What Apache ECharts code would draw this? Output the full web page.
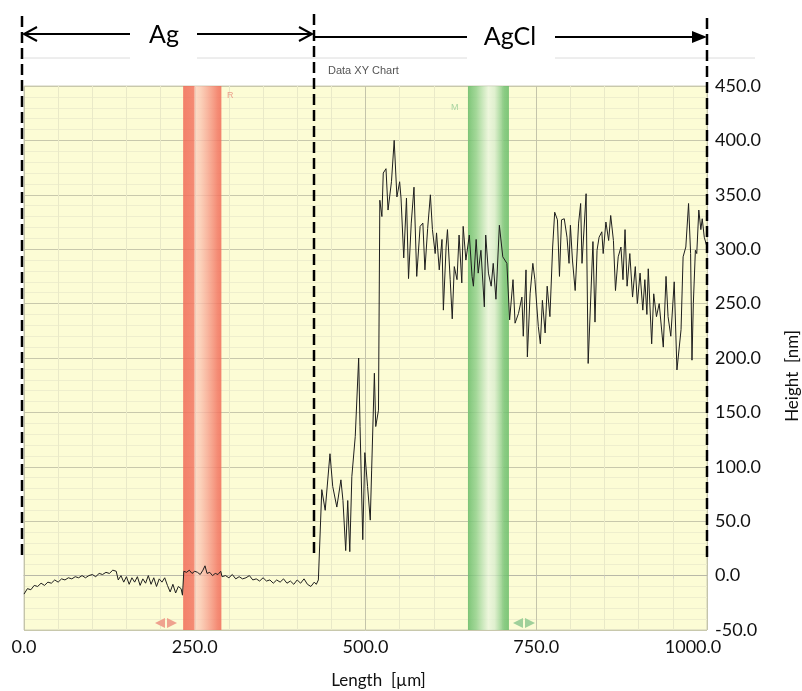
<!DOCTYPE html>
<html>
<head>
<meta charset="utf-8">
<title>Data XY Chart</title>
<script src="https://cdn.jsdelivr.net/npm/echarts@6/dist/echarts.min.js"></script>
<style>
html, body { margin: 0; padding: 0; background: #fff; }
#profileChart { width: 802px; height: 691px; }
</style>
</head>
<body>
<div id="profileChart"></div>
<script>
// Ag part of the profile (flat)
var agLengthUm = [
    0, 5, 10, 15, 20, 25, 30, 35, 40, 45, 50, 55, 60, 65, 70, 75, 80, 85, 90, 95,
    100, 105, 110, 115, 120, 125, 130, 135, 138, 142, 146, 150, 154, 158, 162, 166, 170, 174, 178, 182,
    186, 190, 194, 198, 202, 206, 210, 214, 218, 222, 226, 230, 232, 234, 238, 242, 246, 250, 254, 258,
    262, 265, 268, 272, 276, 280, 284, 288, 290, 295, 300, 305, 310, 315, 320, 325, 330, 335, 340, 345,
    350, 355, 360, 365, 370, 375, 380, 385, 390, 395, 400, 405, 410, 415, 420, 425, 428, 431
];
var agHeightNm = [
    -17, -12, -13, -9, -10, -7, -9, -6, -7, -4, -6, -3, -4, -2, -3, -1, -2, 0, -2, 0,
    1, -1, 2, 1, 3, 2, 5, 4, -4, 0, -6, -1, -8, -2, -6, -1, -9, -3, -7, 0,
    -8, -2, -10, -3, -6, -2, -9, -15, -8, -16, -10, -12, -18, 4, 3, 5, 2, 4, 3, 1,
    5, 9, 2, 3, 0, 2, 1, 4, -1, 0, -2, 1, -3, -1, -3, -2, 0, -4, -3, -5,
    -2, -5, -4, -7, -4, -6, -3, -7, -5, -8, -4, -7, -3, -8, -10, -6, -8, -4
];

// AgCl part of the profile (rough)
var agclLengthUm = [
    436, 441, 448, 452, 458, 464, 467, 471, 474, 477, 480, 485, 490, 492, 496, 499, 503, 507, 509, 513,
    515, 519, 521, 524, 526, 530, 533, 538, 542, 546, 550, 552, 556, 560, 563, 567, 571, 575, 580, 584,
    587, 591, 595, 598, 602, 604, 608, 612, 614, 618, 620, 624, 627, 630, 634, 637, 641, 643, 647, 652,
    656, 658, 662, 665, 669, 674, 676, 680, 684, 687, 691, 696, 701, 707, 711, 716, 719, 724, 729, 731,
    735, 737, 741, 745, 748, 753, 756, 759, 763, 766, 770, 774, 777, 781, 784, 787, 791, 795, 798, 800,
    803, 807, 812, 815, 817, 823, 826, 833, 836, 839, 842, 846, 848, 852, 856, 859, 863, 866, 870, 874,
    877, 880, 883, 887, 891, 895, 898, 902, 906, 909, 912, 914, 919, 922, 926, 930, 934, 936, 940, 943,
    947, 952, 956, 962, 965, 969, 973, 976, 978, 980, 983, 985, 988, 991, 993, 996, 1000
];
var agclHeightNm = [
    79, 60, 112, 82, 63, 88, 69, 23, 69, 22, 91, 128, 200, 137, 33, 113, 82, 51, 97, 186,
    137, 152, 345, 330, 370, 374, 336, 362, 400, 348, 362, 347, 292, 347, 273, 324, 357, 275, 321, 324,
    281, 319, 350, 318, 296, 315, 281, 309, 244, 302, 318, 272, 236, 284, 272, 313, 269, 321, 290, 313,
    275, 266, 309, 278, 299, 247, 313, 278, 266, 287, 254, 322, 293, 287, 235, 272, 232, 241, 256, 220,
    281, 201, 259, 287, 272, 229, 213, 253, 223, 266, 238, 302, 334, 327, 275, 327, 328, 311, 287, 322,
    290, 262, 324, 342, 287, 351, 195, 307, 233, 299, 311, 316, 296, 325, 308, 331, 308, 262, 293, 302,
    272, 318, 266, 296, 256, 284, 250, 278, 244, 272, 240, 282, 213, 259, 238, 250, 223, 210, 275, 238,
    220, 270, 189, 226, 293, 302, 342, 296, 198, 250, 299, 296, 336, 318, 328, 311, 302
];

// cursor bands (reference R and measurement M), in µm
var refBandUm = [233, 289];
var measBandUm = [650, 710];

var xMin = 0, xMax = 1000, xStep = 250;
var yMin = -50, yMax = 450, yStep = 50;

var profileData = [];
agLengthUm.concat(agclLengthUm).forEach(function (x, i) {
    profileData.push([x, agHeightNm.concat(agclHeightNm)[i]]);
});

var profileChart = echarts.init(document.getElementById('profileChart'));

var redBand = new echarts.graphic.LinearGradient(0, 0, 1, 0, [
    {offset: 0, color: 'rgba(241,108,88,0.85)'},
    {offset: 0.27, color: 'rgba(243,118,98,0.85)'},
    {offset: 0.32, color: 'rgba(252,208,192,0.75)'},
    {offset: 0.45, color: 'rgba(251,196,178,0.75)'},
    {offset: 0.9, color: 'rgba(243,120,100,0.85)'},
    {offset: 1, color: 'rgba(241,108,88,0.85)'}
]);
var greenBand = new echarts.graphic.LinearGradient(0, 0, 1, 0, [
    {offset: 0, color: 'rgba(104,188,104,0.85)'},
    {offset: 0.2, color: 'rgba(140,206,136,0.8)'},
    {offset: 0.5, color: 'rgba(232,244,222,0.75)'},
    {offset: 0.65, color: 'rgba(214,236,204,0.75)'},
    {offset: 0.88, color: 'rgba(120,196,118,0.85)'},
    {offset: 1, color: 'rgba(104,188,104,0.85)'}
]);

var lblFont = 'Lato, "DejaVu Sans", sans-serif';

var profileOption = {
    animation: false,
    grid: {
        left: 24,
        right: 95,
        top: 86,
        bottom: 61,
        outerBoundsMode: 'none',
        containLabel: false,
        show: true,
        backgroundColor: '#fcfcd5',
        borderColor: '#cfcfb8',
        borderWidth: 1
    },
    xAxis: {
        type: 'value',
        min: xMin,
        max: xMax,
        interval: xStep,
        name: 'Length  [µm]',
        nameLocation: 'middle',
        nameGap: 42,
        nameTextStyle: {fontFamily: lblFont, fontSize: 17, color: '#111', padding: [0, 0, 0, 26]},
        axisLine: {lineStyle: {color: '#b8b8a8'}},
        axisTick: {show: true, length: 3, lineStyle: {color: '#c8c8b8'}},
        minorTick: {show: true, splitNumber: 5, length: 3, lineStyle: {color: '#d8d8c8'}},
        axisLabel: {
            margin: 8,
            fontFamily: lblFont,
            fontSize: 18,
            color: '#111',
            formatter: function (v) {
                return v === xMax ? '{e|' + v.toFixed(1) + '}' : v.toFixed(1);
            },
            rich: {e: {fontFamily: lblFont, fontSize: 18, color: '#111', padding: [0, 28, 0, 0]}}
        },
        splitLine: {show: true, lineStyle: {color: '#c4c4aa', width: 1}},
        minorSplitLine: {show: true, lineStyle: {color: '#e9e9c8', width: 1}}
    },
    yAxis: {
        type: 'value',
        position: 'right',
        min: yMin,
        max: yMax,
        interval: yStep,
        name: 'Height  [nm]',
        nameLocation: 'middle',
        nameRotate: 90,
        nameGap: 77,
        nameTextStyle: {fontFamily: lblFont, fontSize: 17, color: '#111', padding: [0, 36, 0, 0]},
        axisLine: {show: false},
        axisTick: {show: false},
        minorTick: {show: false, splitNumber: 5},
        axisLabel: {
            margin: 8,
            fontFamily: lblFont,
            fontSize: 18,
            color: '#111',
            formatter: function (v) { return v.toFixed(1); }
        },
        splitLine: {show: true, lineStyle: {color: '#c8c8ac', width: 1}},
        minorSplitLine: {show: true, lineStyle: {color: '#eeeecd', width: 1}}
    },
    series: [{
        name: 'profile',
        type: 'line',
        data: profileData,
        showSymbol: false,
        symbol: 'none',
        z: 2,
        lineStyle: {color: '#1e1e1e', width: 1}
    }, {
        name: 'cursors',
        type: 'line',
        data: [],
        z: 5,
        silent: true,
        markArea: {
            silent: true,
            data: [
                [{xAxis: refBandUm[0], itemStyle: {color: redBand}}, {xAxis: refBandUm[1]}],
                [{xAxis: measBandUm[0], itemStyle: {color: greenBand}}, {xAxis: measBandUm[1]}]
            ]
        }
    }],
    graphic: [
        // chart frame header
        {type: 'line', z: 1, shape: {x1: 20, y1: 58, x2: 130, y2: 58}, style: {stroke: '#dcdcdc', lineWidth: 1}},
        {type: 'line', z: 1, shape: {x1: 197, y1: 58, x2: 467, y2: 58}, style: {stroke: '#dcdcdc', lineWidth: 1}},
        {type: 'line', z: 1, shape: {x1: 555, y1: 58, x2: 755, y2: 58}, style: {stroke: '#dcdcdc', lineWidth: 1}},
        {type: 'text', z: 10, x: 328, y: 71, style: {text: 'Data XY Chart', font: '11px Arial, "Liberation Sans", sans-serif', fill: '#555', textVerticalAlign: 'middle'}},
        {type: 'text', z: 10, x: 227, y: 96, style: {text: 'R', font: '9px Arial, "Liberation Sans", sans-serif', fill: '#eba08c', textVerticalAlign: 'middle'}},
        {type: 'text', z: 10, x: 451, y: 108, style: {text: 'M', font: '9px Arial, "Liberation Sans", sans-serif', fill: '#a8d4a0', textVerticalAlign: 'middle'}},
        // small cursor handles
        {type: 'polygon', z: 10, shape: {points: [[155, 623], [165, 618], [165, 628]]}, style: {fill: '#efa28e'}},
        {type: 'polygon', z: 10, shape: {points: [[167, 618], [177, 623], [167, 628]]}, style: {fill: '#efa28e'}},
        {type: 'polygon', z: 10, shape: {points: [[513, 623], [523, 618], [523, 628]]}, style: {fill: '#9fd09a'}},
        {type: 'polygon', z: 10, shape: {points: [[525, 618], [535, 623], [525, 628]]}, style: {fill: '#9fd09a'}},
        // dashed boundaries
        {type: 'line', z: 20, shape: {x1: 22, y1: 16, x2: 22, y2: 560}, style: {stroke: '#000', lineWidth: 2.5, lineDash: [11, 5]}},
        {type: 'line', z: 20, shape: {x1: 314, y1: 14, x2: 314, y2: 556}, style: {stroke: '#000', lineWidth: 2.5, lineDash: [11, 5]}},
        {type: 'line', z: 20, shape: {x1: 707, y1: 18, x2: 707, y2: 560}, style: {stroke: '#000', lineWidth: 2.5, lineDash: [11, 5]}},
        // Ag arrow
        {type: 'line', z: 20, shape: {x1: 24, y1: 34, x2: 130, y2: 34}, style: {stroke: '#000', lineWidth: 2}},
        {type: 'polyline', z: 20, shape: {points: [[37, 27], [24, 34], [37, 41]]}, style: {stroke: '#000', lineWidth: 2, fill: null}},
        {type: 'line', z: 20, shape: {x1: 197, y1: 34, x2: 312, y2: 34}, style: {stroke: '#000', lineWidth: 2}},
        {type: 'polyline', z: 20, shape: {points: [[299, 27], [312, 34], [299, 41]]}, style: {stroke: '#000', lineWidth: 2, fill: null}},
        {type: 'text', z: 20, x: 164, y: 35, style: {text: 'Ag', font: '25px Lato, sans-serif', fill: '#000', textAlign: 'center', textVerticalAlign: 'middle'}},
        // AgCl arrow
        {type: 'line', z: 20, shape: {x1: 314, y1: 37, x2: 467, y2: 37}, style: {stroke: '#000', lineWidth: 2}},
        {type: 'line', z: 20, shape: {x1: 555, y1: 37, x2: 695, y2: 37}, style: {stroke: '#000', lineWidth: 2}},
        {type: 'polygon', z: 20, shape: {points: [[692, 31], [707, 37], [692, 43]]}, style: {fill: '#000'}},
        {type: 'text', z: 20, x: 510, y: 37, style: {text: 'AgCl', font: '25px Lato, sans-serif', fill: '#000', textAlign: 'center', textVerticalAlign: 'middle'}}
    ]
};

profileChart.setOption(profileOption);
</script>
</body>
</html>
